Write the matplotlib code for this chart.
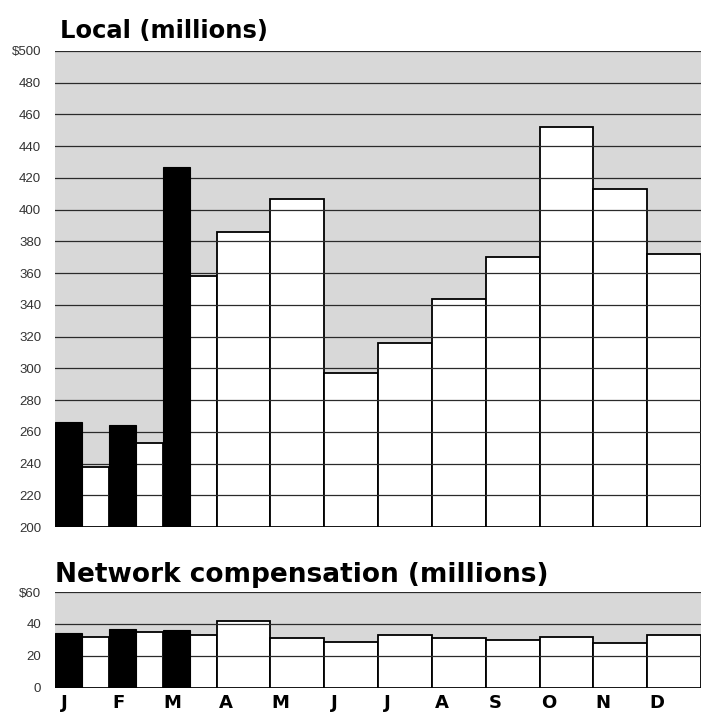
import matplotlib
matplotlib.use("Agg")
import matplotlib.pyplot as plt
import numpy as np

months = ["J", "F", "M", "A", "M", "J", "J", "A", "S", "O", "N", "D"]
# Local (millions): prior year (white) and current year (black, Jan-Mar)
local_prev = [238, 253, 358, 386, 407, 297, 316, 344, 370, 452, 413, 372]
local_curr = [266, 264, 427]
# Network compensation (millions)
net_prev = [32, 35, 33, 42, 31, 29, 33, 31, 30, 32, 28, 33]
net_curr = [34.5, 37, 36.5]

local_ticks = [200, 220, 240, 260, 280, 300, 320, 340, 360, 380, 400, 420, 440, 460, 480, 500]
local_ticklabels = ["200", "220", "240", "260", "280", "300", "320", "340", "360", "380",
                    "400", "420", "440", "460", "480", "$500"]
net_ticks = [0, 20, 40, 60]
net_ticklabels = ["0", "20", "40", "$60"]

W, H = 703, 723
fig = plt.figure(figsize=(W / 100, H / 100), dpi=100)
fig.patch.set_facecolor("white")

gray = "#d8d8d8"
line_col = "#2a2a2a"


def panel(rect, prev, curr, ticks, ticklabels, ymin, ymax):
    ax = fig.add_axes(rect)
    ax.set_facecolor(gray)
    n = len(prev)
    for i in range(n):
        if i < len(curr):
            ax.bar(i + 0.5, prev[i] - ymin, bottom=ymin, width=0.5, align="edge",
                   color="white", edgecolor="black", linewidth=1.3, zorder=2)
        else:
            ax.bar(i, prev[i] - ymin, bottom=ymin, width=1.0, align="edge",
                   color="white", edgecolor="black", linewidth=1.3, zorder=2)
    for i in range(len(curr)):
        ax.bar(i, curr[i] - ymin, bottom=ymin, width=0.5, align="edge",
               color="black", edgecolor="black", linewidth=0.8, zorder=4)
    for t in ticks:
        ax.axhline(t, color=line_col, linewidth=0.9, zorder=3)
    ax.set_xlim(0, n)
    ax.set_ylim(ymin, ymax)
    ax.set_yticks(ticks)
    ax.set_yticklabels(ticklabels, fontsize=9.5, color="#333333", family="Liberation Sans")
    ax.tick_params(axis="y", length=0, pad=10)
    ax.tick_params(axis="x", length=0)
    for s in ax.spines.values():
        s.set_visible(False)
    ax.set_xticks([])
    ax.set_axisbelow(False)
    return ax


ax1 = panel([55 / W, 1 - 527 / H, 646 / W, 476 / H], local_prev, local_curr,
            local_ticks, local_ticklabels, 200, 500)
ax2 = panel([55 / W, 1 - 688 / H, 646 / W, 96 / H], net_prev, net_curr,
            net_ticks, net_ticklabels, 0, 60)

ax2.set_xticks(np.arange(len(months)) + 0.18)
ax2.set_xticklabels(months, fontsize=13, fontweight="heavy", family="DejaVu Sans")
ax2.tick_params(axis="x", pad=4)

fig.text(60 / W, 1 - 38 / H, "Local (millions)", fontsize=17.5, fontweight="heavy",
         family="DejaVu Sans", ha="left", va="baseline")
fig.text(55 / W, 1 - 582 / H, "Network compensation (millions)", fontsize=19,
         fontweight="heavy", family="DejaVu Sans", ha="left", va="baseline")

fig.savefig("out.png", dpi=100, facecolor="white")
